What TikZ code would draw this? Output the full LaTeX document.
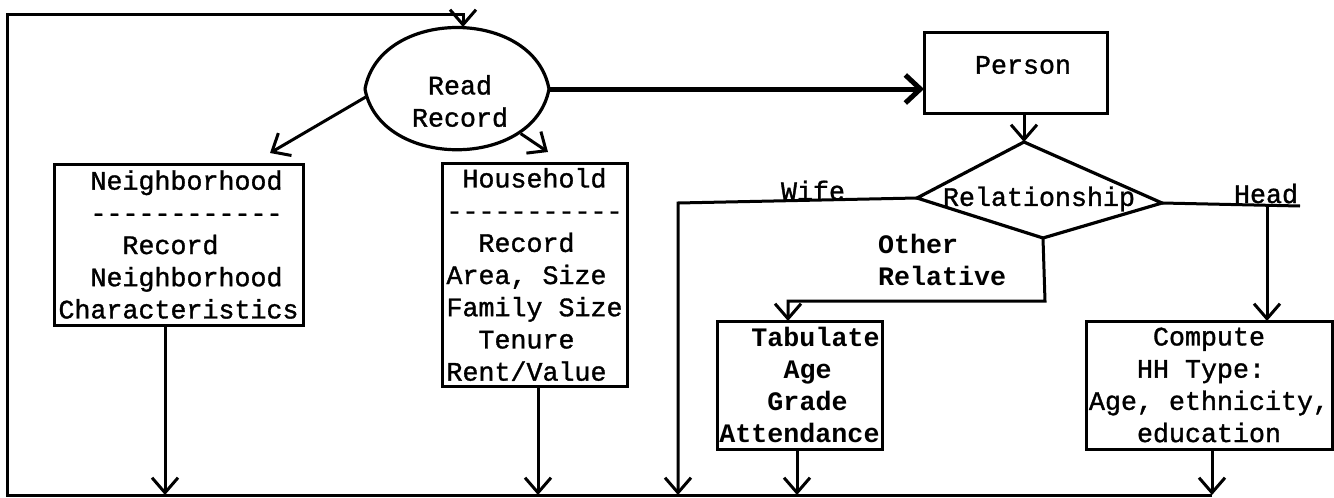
\documentclass[tikz,border=0pt]{standalone}
\usepackage{fontspec}
\setmonofont{Liberation Mono}[UprightFeatures={FakeBold=1.2}]
\usetikzlibrary{arrows.meta,shapes.geometric}
\newcommand\typew{\ttfamily\fontsize{26.67}{32.2}\selectfont}
\begin{document}
\begin{tikzpicture}[x=1pt,y=-1pt,
  every node/.style={inner sep=0pt,outer sep=0pt},
  txt/.style={font=\typew},
  btxt/.style={font=\typew\bfseries, align=left},
  box/.style={draw, line width=3pt, font=\typew, align=left},
  bbox/.style={box, font=\typew\bfseries},
  wire/.style={line width=3pt, line join=miter},
  flow/.style={wire, -{Straight Barb[length=15pt,width=26pt]}},
  heavyflow/.style={line width=5pt, -{Straight Barb[length=15pt,width=28pt]}}]

\useasboundingbox (0,0) rectangle (1334,498);

% boxes
\node[box, minimum width=249pt, minimum height=161pt] (nb) at (178.5,244.5)
  {\hphantom{00}Neighborhood\\\hphantom{00}------------\\\hphantom{0000}Record\\\hphantom{00}Neighborhood\\Characteristics};
\node[box, minimum width=185pt, minimum height=223pt] (hh) at (534.5,274.5)
  {\hphantom{0}Household\\-----------\\\hphantom{00}Record\\Area, Size\\Family Size\\\hphantom{00}Tenure\\Rent/Value};
\node[bbox, minimum width=165pt, minimum height=128pt] (tab) at (799.5,385)
  {\hphantom{00}Tabulate\\\hphantom{0000}Age\\\hphantom{000}Grade\\Attendance};
\node[box, minimum width=246pt, minimum height=128pt] (cp) at (1209,385)
  {\hphantom{0000}Compute\\\hphantom{000}HH Type:\\Age, ethnicity,\\\hphantom{000}education};
\node[draw, line width=3pt, minimum width=183pt, minimum height=81pt] (ps) at (1015.5,72.5) {};
\node[txt] (pslab) at (1023,65) {Person};

% read record
\node[ellipse, minimum width=184pt, minimum height=124pt] (rr) at (457,89) {};
\draw[line width=3.2pt] (rr.west) .. controls +(15,-82) and +(-15,-82) .. (rr.east)
  .. controls +(-15,81) and +(15,81) .. (rr.west);
\node[txt, align=center] (rrlab) at (460,101) {Read\\Record};

% relationship decision
\coordinate (rt) at (1024,142);
\coordinate (rl) at (917,198);
\coordinate (rrt) at (1162,203);
\coordinate (rb) at (1043,238);
\draw[line width=3.2pt, line join=miter] (rt) -- (rrt) -- (rb) -- (rl) -- cycle;
\node[txt] (rellab) at (1039,199) {Relationship};

% routing points
\coordinate (bl) at (7,495);
\coordinate (tl) at (7,14);
\coordinate (wc) at (678,203);
\coordinate (oc) at (1045,301);
\coordinate (hc) at (1267,205);
\coordinate (hend) at (1300,206);
\coordinate (nbin) at (270,153);
\coordinate (hhin) at (548,152);
\path ([xshift=-13.5pt]nb.south) coordinate (nbout)
      ([xshift=3.5pt]hh.south) coordinate (hhout)
      ([xshift=-2.5pt]tab.south) coordinate (tabout)
      ([xshift=3pt]cp.south) coordinate (cpout)
      ([xshift=8.5pt]ps.south) coordinate (psout)
      ([xshift=-11.5pt]tab.north) coordinate (tabin)
      ([xshift=6pt]rr.north) coordinate (rrtop);

% connectors
\draw[flow] (rr.185) -- (nbin);
\draw[flow] (rr.-35) -- (hhin);
\draw[heavyflow] (rr.east) -- (rr.east -| ps.west);
\draw[flow] (psout) -- (rt);
\draw[flow] (rl) -- (wc) -- (wc |- bl);
\draw[flow] (rb) -- (oc) -| (tabin);
\draw[wire] (rrt) -- (hend);
\draw[flow] (hc) -- (hc |- cp.north);
\draw[flow] (nbout) -- (nbout |- bl);
\draw[flow] (hhout) -- (hhout |- bl);
\draw[flow] (tabout) -- (tabout |- bl);
\draw[flow] (cpout) -- (cpout |- bl);
\draw[flow] (cpout |- bl) -- (bl) -- (tl) -| (rrtop);

% branch labels
\node[txt, anchor=base] (wifelab) at (813,200) {Wife};
\node[txt, anchor=base] (headlab) at (1266,203) {Head};
\node[btxt, anchor=west] (othlab) at (878,260) {Other\\Relative};
\end{tikzpicture}
\end{document}
